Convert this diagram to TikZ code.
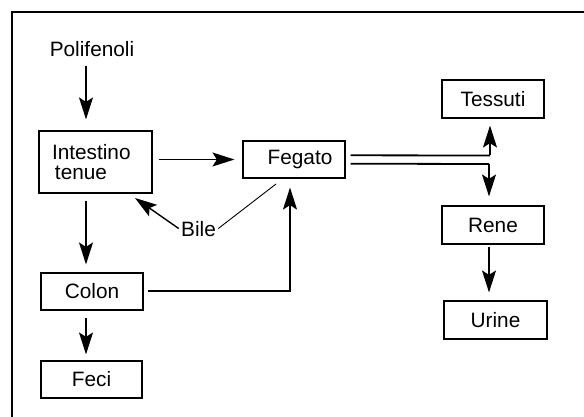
\documentclass[tikz,border=0pt]{standalone}
\usepackage{fontspec}
\setmainfont{Liberation Sans}
\usetikzlibrary{arrows.meta, calc}
\tikzset{
  organ/.style={draw, line width=0.55pt, inner sep=0pt, minimum width=51pt, minimum height=18.5pt},
  flow/.style={-{Stealth[length=11pt, width=7pt, inset=2.2pt]}, line width=0.7pt},
}

\begin{document}
\begin{tikzpicture}[x=0.5pt, y=-0.5pt, every node/.style={font=\fontsize{10.4}{9.75}\selectfont}]
    \useasboundingbox (0,0) rectangle (584,417);
    % Frame
    \draw[line width=0.8pt] (12,417) -- (12,12) -- (584,12);

    % Organs
    \node[anchor=base, inner sep=0pt] (polifenoli) at (92,57) {Polifenoli};
    \node[organ, minimum width=56.5pt, minimum height=31pt, text width=43.5pt, align=left] (intestino) at (95.5,162) {Intestino\\\hspace*{1.5pt}tenue};
    \node[organ] (fegato) at (294,159.5) {\hspace{6pt}Fegato};
    \node[organ] (colon) at (92,291.5) {Colon\hspace{6pt}};
    \node[organ, minimum width=50.5pt] (feci) at (91.5,379.5) {Feci};
    \node[organ, minimum height=19pt] (tessuti) at (493,99) {Tessuti};
    \node[organ, minimum height=19pt] (rene) at (493,225) {Rene};
    \node[organ, minimum width=51.5pt, minimum height=19pt] (urine) at (495.5,320) {Urine};
    \node[anchor=base, inner sep=1pt] (bile) at (198.5,236) {Bile};

    % Helper points
    \coordinate (lcol) at (86,0);
    \coordinate (cturn) at (290,291);
    \coordinate (biletip) at (135,198);
    \coordinate (bileend) at (276,184);
    \coordinate (tsplit) at (490,155.5);
    \coordinate (rsplit) at (489,164);

    % Gut
    \draw[flow, shorten <=4pt, shorten >=5.5pt] (polifenoli.south -| lcol) -- (intestino.north -| lcol);
    \draw[flow, shorten <=3pt, shorten >=4pt] (intestino.east |- fegato.west) -- (fegato.west);
    \draw[flow, shorten <=3.5pt, shorten >=4pt] (intestino.south -| lcol) -- (colon.north -| lcol);
    \draw[flow, shorten <=3.5pt, shorten >=3pt] (colon.south -| lcol) -- (feci.north -| lcol);
    \draw[flow, line width=0.8pt, shorten <=2pt, shorten >=4.5pt] (colon.east |- cturn) -- (cturn) -- (cturn |- fegato.south);

    % Bile
    \draw[flow] (bile.west) -- (biletip);
    \draw[line width=0.45pt] (bile.east) -- (bileend);

    % Circulation
    \draw[line width=0.9pt, shorten <=2.5pt] ([yshift=2.1pt]fegato.east) -- (tsplit);
    \draw[line width=0.9pt, shorten <=2.5pt] ([yshift=-2.1pt]fegato.east) -- (rsplit);
    \draw[flow, shorten >=3.5pt] (tsplit) -- (tsplit |- tessuti.south);
    \draw[flow, shorten >=4.5pt] (rsplit) -- (rsplit |- rene.north);
    \draw[flow, shorten <=1pt, shorten >=4pt] (rene.south -| rsplit) -- (urine.north -| rsplit);
\end{tikzpicture}
\end{document}
